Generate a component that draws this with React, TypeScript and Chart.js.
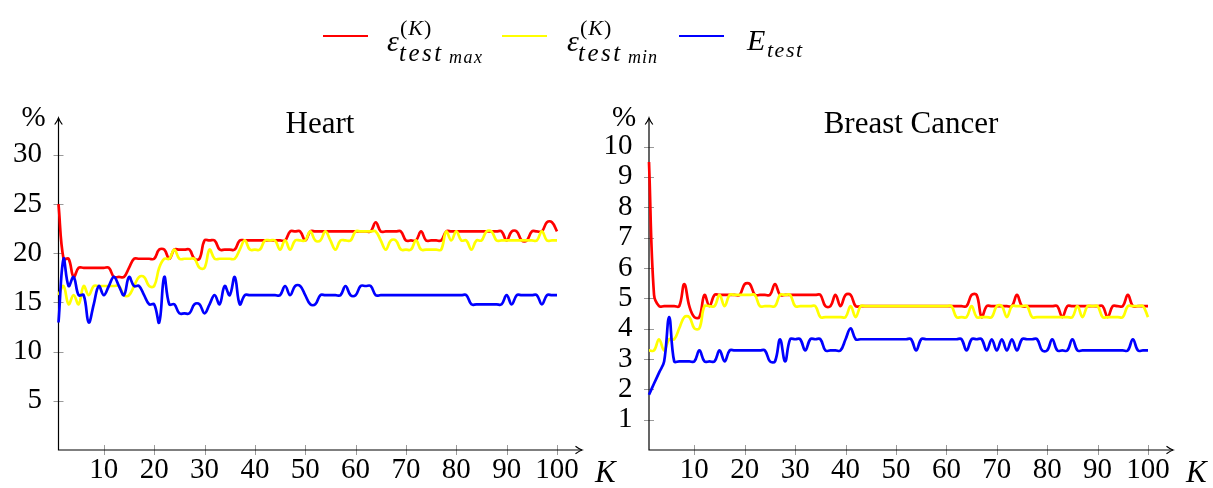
import React, { useEffect, useRef } from "react";
import { Chart, registerables } from "chart.js";

Chart.register(...registerables);

// ---------- data ----------
const kValues: number[] = Array.from({ length: 100 }, (_, i) => i + 1);

const heartMax = [
  25.0, 19.44, 19.44, 17.59, 18.52, 18.52, 18.52, 18.52, 18.52, 18.52,
  18.52, 17.59, 17.59, 17.59, 18.52, 19.44, 19.44, 19.44, 19.44, 19.44,
  20.37, 20.37, 19.44, 20.37, 20.37, 20.37, 20.37, 19.44, 19.44, 21.3,
  21.3, 21.3, 20.37, 20.37, 20.37, 20.37, 21.3, 21.3, 21.3, 21.3,
  21.3, 21.3, 21.3, 21.3, 21.3, 21.3, 22.22, 22.22, 22.22, 21.3,
  22.22, 22.22, 22.22, 22.22, 22.22, 22.22, 22.22, 22.22, 22.22, 22.22,
  22.22, 22.22, 22.22, 23.15, 22.22, 22.22, 22.22, 22.22, 22.22, 21.3,
  21.3, 21.3, 22.22, 21.3, 21.3, 21.3, 21.3, 22.22, 22.22, 22.22,
  22.22, 22.22, 22.22, 22.22, 22.22, 22.22, 22.22, 22.22, 22.22, 21.3,
  22.22, 22.22, 21.3, 21.3, 22.22, 22.22, 22.22, 23.15, 23.15, 22.22,
];

const heartMin = [
  15.74, 16.67, 14.81, 15.74, 14.81, 16.67, 15.74, 16.67, 16.67, 16.67,
  16.67, 16.67, 16.67, 15.74, 15.74, 16.67, 17.59, 17.59, 16.67, 16.67,
  18.52, 19.44, 19.44, 20.37, 19.44, 19.44, 19.44, 19.44, 18.52, 18.52,
  20.37, 19.44, 19.44, 19.44, 19.44, 19.44, 20.37, 21.3, 20.37, 20.37,
  20.37, 21.3, 21.3, 21.3, 20.37, 21.3, 20.37, 21.3, 21.3, 21.3,
  22.22, 21.3, 21.3, 22.22, 21.3, 20.37, 21.3, 21.3, 21.3, 22.22,
  22.22, 22.22, 22.22, 22.22, 21.3, 20.37, 21.3, 21.3, 20.37, 20.37,
  20.37, 21.3, 20.37, 20.37, 20.37, 20.37, 20.37, 22.22, 21.3, 22.22,
  21.3, 21.3, 20.37, 21.3, 21.3, 22.22, 22.22, 21.3, 21.3, 21.3,
  21.3, 21.3, 21.3, 21.3, 21.3, 21.3, 22.22, 21.3, 21.3, 21.3,
];

const heartTest = [
  12.96, 19.44, 16.67, 17.59, 15.74, 15.74, 12.96, 14.81, 16.67, 15.74,
  16.67, 17.59, 16.67, 15.74, 17.59, 16.67, 16.67, 15.74, 14.81, 14.81,
  12.96, 17.59, 14.81, 14.81, 13.89, 13.89, 13.89, 14.81, 14.81, 13.89,
  14.81, 15.74, 14.81, 16.67, 15.74, 17.59, 14.81, 15.74, 15.74, 15.74,
  15.74, 15.74, 15.74, 15.74, 15.74, 16.67, 15.74, 16.67, 16.67, 15.74,
  14.81, 14.81, 15.74, 15.74, 15.74, 15.74, 15.74, 16.67, 15.74, 15.74,
  16.67, 16.67, 16.67, 15.74, 15.74, 15.74, 15.74, 15.74, 15.74, 15.74,
  15.74, 15.74, 15.74, 15.74, 15.74, 15.74, 15.74, 15.74, 15.74, 15.74,
  15.74, 15.74, 14.81, 14.81, 14.81, 14.81, 14.81, 14.81, 14.81, 15.74,
  14.81, 15.74, 15.74, 15.74, 15.74, 15.74, 14.81, 15.74, 15.74, 15.74,
];

const breastMax = [
  9.49, 5.11, 4.74, 4.74, 4.74, 4.74, 4.74, 5.47, 4.74, 4.38,
  4.38, 5.11, 4.74, 5.11, 5.11, 5.11, 5.11, 5.11, 5.11, 5.47,
  5.47, 5.11, 5.11, 5.11, 5.11, 5.47, 5.11, 5.11, 5.11, 5.11,
  5.11, 5.11, 5.11, 5.11, 5.11, 4.74, 4.74, 5.11, 4.74, 5.11,
  5.11, 4.74, 4.74, 4.74, 4.74, 4.74, 4.74, 4.74, 4.74, 4.74,
  4.74, 4.74, 4.74, 4.74, 4.74, 4.74, 4.74, 4.74, 4.74, 4.74,
  4.74, 4.74, 4.74, 4.74, 5.11, 5.11, 4.38, 4.74, 4.74, 4.74,
  4.74, 4.74, 4.74, 5.11, 4.74, 4.74, 4.74, 4.74, 4.74, 4.74,
  4.74, 4.74, 4.38, 4.74, 4.74, 4.74, 4.74, 4.74, 4.74, 4.74,
  4.74, 4.38, 4.74, 4.74, 4.74, 5.11, 4.74, 4.74, 4.74, 4.74,
];

const breastMin = [
  3.28, 3.28, 3.65, 3.28, 3.65, 3.65, 4.01, 4.38, 4.38, 4.01,
  4.01, 4.74, 4.74, 4.74, 5.11, 4.74, 5.11, 5.11, 5.11, 5.11,
  5.11, 5.11, 4.74, 4.74, 4.74, 4.74, 5.11, 5.11, 5.11, 4.74,
  4.74, 4.74, 4.74, 4.74, 4.38, 4.38, 4.38, 4.38, 4.38, 4.38,
  4.74, 4.38, 4.74, 4.74, 4.74, 4.74, 4.74, 4.74, 4.74, 4.74,
  4.74, 4.74, 4.74, 4.74, 4.74, 4.74, 4.74, 4.74, 4.74, 4.74,
  4.74, 4.38, 4.38, 4.38, 4.74, 4.38, 4.38, 4.38, 4.38, 4.74,
  4.74, 4.38, 4.74, 4.74, 4.74, 4.74, 4.38, 4.38, 4.38, 4.38,
  4.38, 4.38, 4.38, 4.38, 4.38, 4.74, 4.38, 4.74, 4.74, 4.74,
  4.38, 4.38, 4.38, 4.38, 4.38, 4.74, 4.74, 4.74, 4.74, 4.38,
];

const breastTest = [
  1.82, 2.19, 2.55, 2.92, 4.38, 2.92, 2.92, 2.92, 2.92, 2.92,
  3.28, 2.92, 2.92, 2.92, 3.28, 2.92, 3.28, 3.28, 3.28, 3.28,
  3.28, 3.28, 3.28, 3.28, 2.92, 2.92, 3.65, 2.92, 3.65, 3.65,
  3.65, 3.28, 3.65, 3.65, 3.65, 3.28, 3.28, 3.28, 3.28, 3.65,
  4.01, 3.65, 3.65, 3.65, 3.65, 3.65, 3.65, 3.65, 3.65, 3.65,
  3.65, 3.65, 3.65, 3.28, 3.65, 3.65, 3.65, 3.65, 3.65, 3.65,
  3.65, 3.65, 3.65, 3.28, 3.65, 3.65, 3.65, 3.28, 3.65, 3.28,
  3.65, 3.28, 3.65, 3.28, 3.65, 3.65, 3.65, 3.65, 3.28, 3.28,
  3.65, 3.28, 3.28, 3.28, 3.65, 3.28, 3.28, 3.28, 3.28, 3.28,
  3.28, 3.28, 3.28, 3.28, 3.28, 3.28, 3.65, 3.28, 3.28, 3.28,
];

const xTickValues = [10, 20, 30, 40, 50, 60, 70, 80, 90, 100];
const heartYTicks = [5, 10, 15, 20, 25, 30];
const breastYTicks = [1, 2, 3, 4, 5, 6, 7, 8, 9, 10];

const heartTitle = "Heart";
const breastTitle = "Breast Cancer";

// ---------- styling ----------
const SERIF = '"Liberation Serif", "Times New Roman", serif';
const RED = "#ff0000";
const YELLOW = "#ffff00";
const BLUE = "#0000ff";

function axesPlugin(title: string, titleX: number) {
  return {
    id: "pgfAxes",
    beforeDatasetsDraw(chart: any) {
      const ctx: CanvasRenderingContext2D = chart.ctx;
      const a = chart.chartArea;
      const xs = chart.scales.x;
      const ys = chart.scales.y;
      ctx.save();
      // tick marks
      ctx.strokeStyle = "#9a9a9a";
      ctx.lineWidth = 1;
      ctx.beginPath();
      xs.ticks.forEach((t: any) => {
        const px = Math.round(xs.getPixelForValue(t.value)) + 0.5;
        ctx.moveTo(px, a.bottom - 5);
        ctx.lineTo(px, a.bottom + 5);
      });
      ys.ticks.forEach((t: any) => {
        const py = Math.round(ys.getPixelForValue(t.value)) + 0.5;
        ctx.moveTo(a.left - 5, py);
        ctx.lineTo(a.left + 5, py);
      });
      ctx.stroke();
      // axis lines
      const xTip = a.right + 25;
      ctx.strokeStyle = "#000";
      ctx.lineWidth = 1.2;
      ctx.beginPath();
      ctx.moveTo(a.left, a.top);
      ctx.lineTo(a.left, a.bottom);
      ctx.lineTo(xTip, a.bottom);
      ctx.stroke();
      // arrow heads
      ctx.beginPath();
      ctx.moveTo(xTip - 6.5, a.bottom - 3.8);
      ctx.quadraticCurveTo(xTip - 2.5, a.bottom - 0.8, xTip, a.bottom);
      ctx.quadraticCurveTo(xTip - 2.5, a.bottom + 0.8, xTip - 6.5, a.bottom + 3.8);
      ctx.moveTo(a.left - 3.8, a.top + 6.5);
      ctx.quadraticCurveTo(a.left - 0.8, a.top + 2.5, a.left, a.top);
      ctx.quadraticCurveTo(a.left + 0.8, a.top + 2.5, a.left + 3.8, a.top + 6.5);
      ctx.stroke();
      // texts
      ctx.fillStyle = "#000";
      ctx.textBaseline = "alphabetic";
      ctx.textAlign = "center";
      ctx.font = `31px ${SERIF}`;
      ctx.fillText(title, titleX, 133);
      ctx.font = `29px ${SERIF}`;
      ctx.fillText("%", a.left - 25, 126);
      ctx.textAlign = "left";
      ctx.font = `italic 31px ${SERIF}`;
      ctx.fillText("K", a.right + 38, 482);
      ctx.restore();
    },
  };
}

function buildConfig(
  maxArr: number[],
  minArr: number[],
  testArr: number[],
  yMax: number,
  yTicks: number[],
  yWidth: number,
  padRight: number,
  title: string,
  titleX: number
): any {
  const pts = (arr: number[]) => kValues.map((k, i) => ({ x: k, y: arr[i] }));
  const common = {
    borderWidth: 2.7,
    pointRadius: 0,
    pointHoverRadius: 0,
    tension: 0.4,
    fill: false,
    clip: false,
  };
  const tickFont = { family: SERIF, size: 29, lineHeight: 1.2 };
  return {
    type: "line",
    data: {
      datasets: [
        { ...common, label: "max", data: pts(maxArr), borderColor: RED, order: 3 },
        { ...common, label: "min", data: pts(minArr), borderColor: YELLOW, order: 2 },
        { ...common, label: "test", data: pts(testArr), borderColor: BLUE, order: 1 },
      ],
    },
    options: {
      animation: false,
      responsive: false,
      maintainAspectRatio: false,
      devicePixelRatio: 1,
      events: [],
      layout: { padding: { top: 118, right: padRight, left: 0, bottom: 0 } },
      plugins: {
        legend: { display: false },
        tooltip: { enabled: false },
        title: { display: false },
      },
      scales: {
        x: {
          type: "linear",
          min: 1,
          max: 100,
          grid: { display: false, drawTicks: false },
          border: { display: false },
          ticks: {
            font: tickFont,
            color: "#000",
            padding: 3,
            autoSkip: false,
            maxRotation: 0,
            minRotation: 0,
          },
          afterBuildTicks: (s: any) => {
            s.ticks = xTickValues.map((v) => ({ value: v }));
          },
          afterFit: (s: any) => {
            s.height = 38;
          },
        },
        y: {
          type: "linear",
          min: 0,
          max: yMax,
          grid: { display: false, drawTicks: false },
          border: { display: false },
          ticks: { font: tickFont, color: "#000", padding: 16.5, autoSkip: false },
          afterBuildTicks: (s: any) => {
            s.ticks = yTicks.map((v) => ({ value: v }));
          },
          afterFit: (s: any) => {
            s.width = yWidth;
          },
        },
      },
    },
    plugins: [axesPlugin(title, titleX)],
  };
}

// ---------- legend ----------
function T(props: {
  left: number;
  base: number;
  size: number;
  italic?: boolean;
  spacing?: number;
  children: React.ReactNode;
}) {
  const { left, base, size, italic = true, spacing = 0, children } = props;
  return (
    <span
      style={{
        position: "absolute",
        left,
        top: base - 0.8375 * size,
        fontSize: size,
        lineHeight: `${size}px`,
        fontFamily: SERIF,
        fontStyle: italic ? "italic" : "normal",
        letterSpacing: spacing,
        whiteSpace: "nowrap",
        color: "#000",
      }}
    >
      {children}
    </span>
  );
}

function LegendLine(props: { left: number; color: string }) {
  return (
    <div
      style={{
        position: "absolute",
        left: props.left,
        top: 35.25,
        width: 45,
        height: 1.5,
        background: props.color,
      }}
    />
  );
}

function Legend() {
  return (
    <>
      <LegendLine left={323} color={RED} />
      <T left={387} base={51} size={30}>ε</T>
      <T left={400} base={35} size={22} italic={false} spacing={1}>
        (<i>K</i>)
      </T>
      <T left={399} base={60.5} size={25} spacing={2.5}>test</T>
      <T left={449} base={63} size={18} spacing={1.5}>max</T>

      <LegendLine left={502} color={YELLOW} />
      <T left={567} base={51} size={30}>ε</T>
      <T left={580} base={35} size={22} italic={false} spacing={1}>
        (<i>K</i>)
      </T>
      <T left={578} base={60.5} size={25} spacing={2.5}>test</T>
      <T left={628} base={63} size={18} spacing={1}>min</T>

      <LegendLine left={679} color={BLUE} />
      <T left={747} base={50} size={30}>E</T>
      <T left={767} base={57} size={22} spacing={1.5}>test</T>
    </>
  );
}

export default function App() {
  const heartRef = useRef<HTMLCanvasElement>(null);
  const breastRef = useRef<HTMLCanvasElement>(null);

  useEffect(() => {
    const c1 = new Chart(
      heartRef.current as HTMLCanvasElement,
      buildConfig(heartMax, heartMin, heartTest, 33.75, heartYTicks, 58.5, 73, heartTitle, 320)
    );
    const c2 = new Chart(
      breastRef.current as HTMLCanvasElement,
      buildConfig(breastMax, breastMin, breastTest, 10.94, breastYTicks, 59, 65, breastTitle, 321)
    );
    return () => {
      c1.destroy();
      c2.destroy();
    };
  }, []);

  return (
    <div
      style={{
        position: "fixed",
        left: 0,
        top: 0,
        width: 1213,
        height: 488,
        background: "#fff",
        overflow: "hidden",
      }}
    >
      <canvas
        ref={heartRef}
        width={630}
        height={488}
        style={{ position: "absolute", left: 0, top: 0, width: 630, height: 488 }}
      />
      <canvas
        ref={breastRef}
        width={623}
        height={488}
        style={{ position: "absolute", left: 590, top: 0, width: 623, height: 488 }}
      />
      <Legend />
    </div>
  );
}
